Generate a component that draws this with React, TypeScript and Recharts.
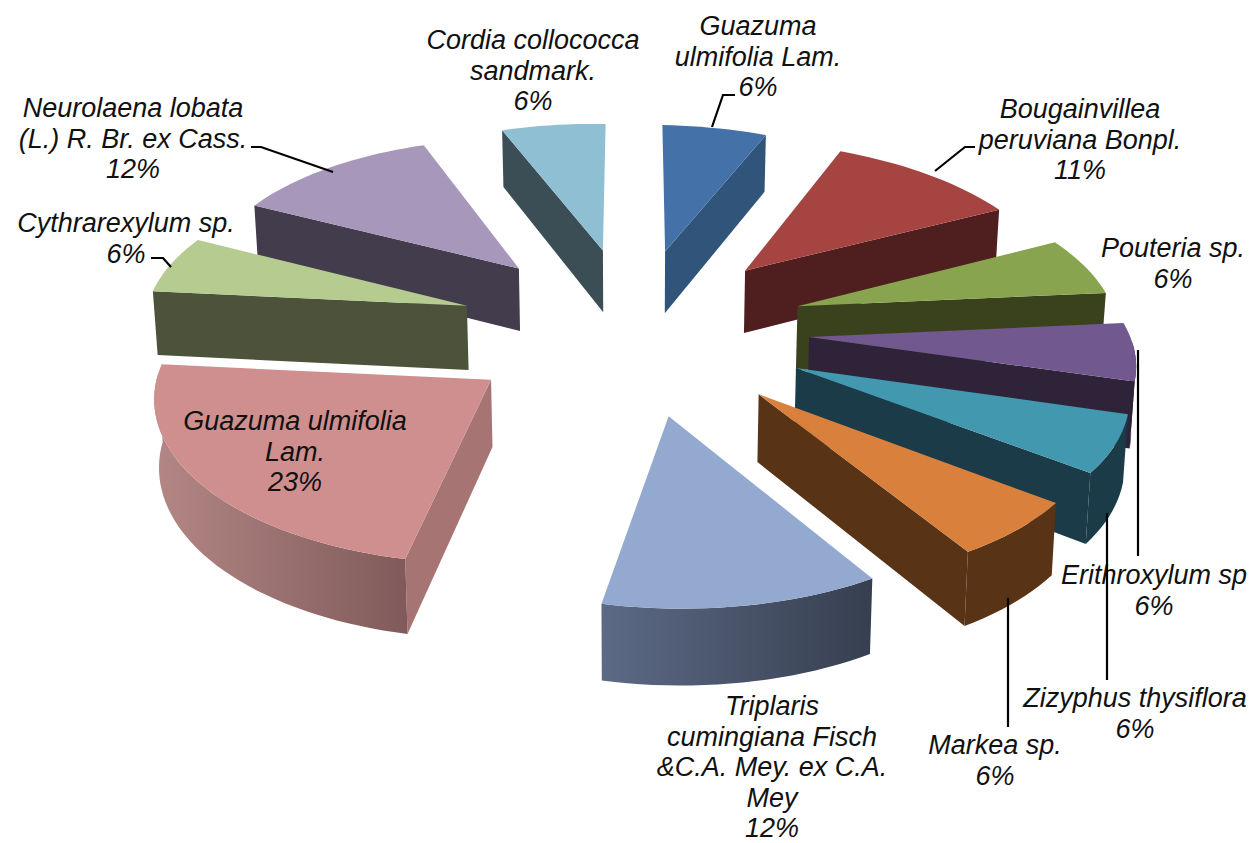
import React from 'react';
import { Pie, PieChart } from 'recharts';

const speciesNames = [
  'Guazuma ulmifolia Lam.',
  'Bougainvillea peruviana Bonpl.',
  'Pouteria sp.',
  'Erithroxylum sp',
  'Zizyphus thysiflora',
  'Markea sp.',
  'Triplaris cumingiana Fisch &C.A. Mey. ex C.A. Mey',
  'Guazuma ulmifolia Lam. (2)',
  'Cythrarexylum sp.',
  'Neurolaena lobata (L.) R. Br. ex Cass.',
  'Cordia collococca sandmark.',
];
const shares = [6, 11, 6, 6, 6, 6, 12, 23, 6, 12, 6];

const labelLines = [
  ['Guazuma', 'ulmifolia Lam.', '6%'],
  ['Bougainvillea', 'peruviana Bonpl.', '11%'],
  ['Pouteria sp.', '6%'],
  ['Erithroxylum sp', '6%'],
  ['Zizyphus thysiflora', '6%'],
  ['Markea sp.', '6%'],
  ['Triplaris', 'cumingiana Fisch', '&C.A. Mey. ex C.A.', 'Mey', '12%'],
  ['Guazuma ulmifolia', 'Lam.', '23%'],
  ['Cythrarexylum sp.', '6%'],
  ['Neurolaena lobata', '(L.) R. Br. ex Cass.', '12%'],
  ['Cordia collococca', 'sandmark.', '6%'],
];

// label anchor: centre x, first line middle y
const labelAnchors = [
  [758, 26], [1080, 109], [1173, 248], [1154, 575], [1135, 698], [995, 745],
  [772, 706], [295, 421], [126, 223], [133, 108], [533, 40],
];
const leaderLines = [
  '712,127 723,95 735,95',
  '935,171 965,147 975,147',
  '',
  '1138,350 1138,556',
  '1107,513 1107,680',
  '1008,598 1008,727',
  '',
  '',
  '151,258 163,258 171,267',
  '251,147 261,147 333,172',
  '',
];

const topColors = ['#4472a8', '#a64442', '#88a44e', '#71588f', '#4198af', '#d9813c', '#93a9cf', '#cf8f8e', '#b6cb90', '#a797ba', '#8fbfd3'];
const sideColors = ['#31547b', '#4f1e1e', '#3a421d', '#2e2338', '#1a3b47', '#593316', '#3a4254', '#a67573', '#4c533a', '#423c4c', '#3b4e56'];
const wallLeft = ['#31547b', '#4f1e1e', '#3a421d', '#2e2338', '#1a3b47', '#593316', '#5d6a86', '#b38786', '#4c533a', '#423c4c', '#3b4e56'];
const wallRight = ['#31547b', '#4f1e1e', '#3a421d', '#2e2338', '#1a3b47', '#593316', '#363f4f', '#805a5a', '#4c533a', '#423c4c', '#3b4e56'];

// back to front
const drawOrder = [0, 1, 2, 3, 4, 5, 6, 10, 9, 8, 7];

const pieData = speciesNames.map((name, i) => ({ name, value: shares[i], slice: i }));

const EXPLODE = 0.543;
const TILT = 0.478;
const ROLL = 0.016;
const VIEW_DIST = 3200;
const DEPTH = 65;
const rad = (d: number) => (d * Math.PI) / 180;

function Wedge(props: any) {
  const { cx, cy, outerRadius, startAngle, endAngle, slice } = props;
  // recharts angles are counter-clockwise from 3 o'clock, here clockwise from 12
  const from = 90 - startAngle;
  const to = 90 - endAngle;
  const mid = (from + to) / 2;
  const shift = outerRadius * EXPLODE;

  const point = (theta: number, r: number, low: boolean) => {
    const x = shift * Math.sin(rad(mid)) + r * Math.sin(rad(theta));
    const y = -shift * Math.cos(rad(mid)) - r * Math.cos(rad(theta));
    const s = VIEW_DIST / (VIEW_DIST - y);
    const top = cy + TILT * y * s + ROLL * x;
    return low
      ? `${cx + x * s * 0.99},${top + DEPTH * s}`
      : `${cx + x * s},${top}`;
  };
  const arc = (a: number, b: number, low: boolean) => {
    const n = Math.max(2, Math.ceil(Math.abs(b - a) / 2));
    const pts: string[] = [];
    for (let i = 0; i <= n; i++) pts.push(point(a + ((b - a) * i) / n, outerRadius, low));
    return pts;
  };

  const apexTop = point(0, 0, false);
  const apexLow = point(0, 0, true);
  const gradId = `wall-${slice}`;
  const wallFrom = Math.max(from, 90);
  const wallTo = Math.min(to, 270);

  return (
    <g>
      <defs>
        <linearGradient id={gradId} x1="0" y1="0" x2="1" y2="0">
          <stop offset="0%" stopColor={wallLeft[slice]} />
          <stop offset="100%" stopColor={wallRight[slice]} />
        </linearGradient>
      </defs>
      {from > 180 && (
        <polygon
          points={[apexTop, point(from, outerRadius, false), point(from, outerRadius, true), apexLow].join(' ')}
          fill={sideColors[slice]}
        />
      )}
      {to < 180 && (
        <polygon
          points={[apexTop, point(to, outerRadius, false), point(to, outerRadius, true), apexLow].join(' ')}
          fill={sideColors[slice]}
        />
      )}
      {wallTo > wallFrom && (
        <polygon
          points={[...arc(wallFrom, wallTo, false), ...arc(wallTo, wallFrom, true)].join(' ')}
          fill={`url(#${gradId})`}
        />
      )}
      <polygon points={[apexTop, ...arc(from, to, false)].join(' ')} fill={topColors[slice]} />
    </g>
  );
}

function SliceLabel(props: any) {
  const i = props.index;
  const [x, y] = labelAnchors[i];
  return (
    <g>
      {leaderLines[i] && <polyline points={leaderLines[i]} fill="none" stroke="#000" strokeWidth={2.2} />}
      <text
        textAnchor="middle"
        fontFamily="Liberation Sans, Arial, sans-serif"
        fontStyle="italic"
        fontSize={27}
        fill="#111"
      >
        {labelLines[i].map((line, k) => (
          <tspan key={k} x={x} y={y + 9 + k * 30.5}>
            {line}
          </tspan>
        ))}
      </text>
    </g>
  );
}

export default function App() {
  return (
    <div style={{ position: 'absolute', left: 0, top: 0, background: '#fff' }}>
      <PieChart width={1256} height={843} margin={{ top: 0, right: 0, bottom: 0, left: 0 }}>
        {drawOrder.map(id => (
          <Pie
            key={id}
            data={pieData}
            dataKey="value"
            nameKey="name"
            cx={634}
            cy={329}
            outerRadius={322}
            startAngle={90}
            endAngle={-270}
            stroke="none"
            isAnimationActive={false}
            shape={(p: any) => (p.slice === id ? <Wedge {...p} /> : <g />)}
          />
        ))}
        <Pie
          data={pieData}
          dataKey="value"
          nameKey="name"
          cx={634}
          cy={329}
          outerRadius={322}
          startAngle={90}
          endAngle={-270}
          stroke="none"
          isAnimationActive={false}
          shape={() => <g />}
          labelLine={false}
          label={(p: any) => <SliceLabel {...p} />}
        />
      </PieChart>
    </div>
  );
}
